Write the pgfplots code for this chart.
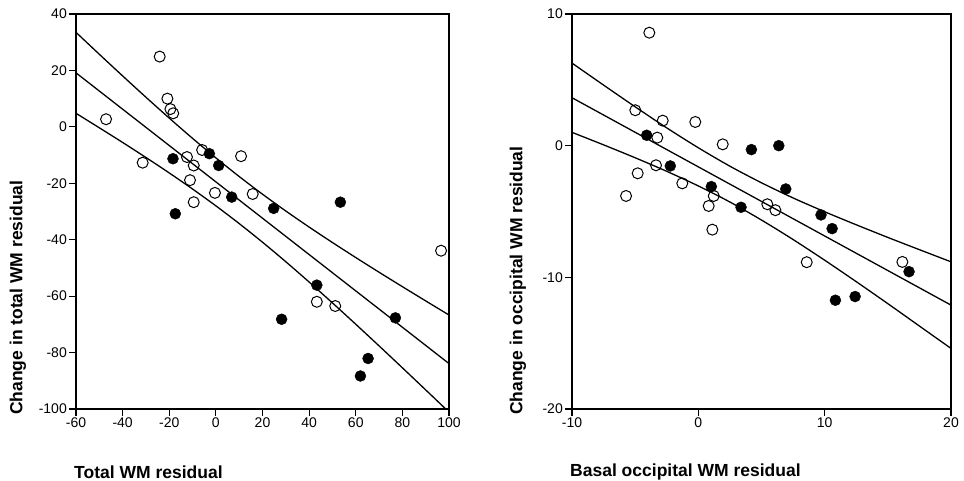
\documentclass[border=0pt]{standalone}
\usepackage{pgfplots}
\pgfplotsset{compat=1.18}
\usepackage{fontspec}
\setmainfont{Liberation Sans}

\pgfplotsset{
  resid/.style={
    scale only axis, height=395pt, anchor=south west,
    xtick pos=bottom, ytick pos=left, tick align=outside,
    major tick length=7pt,
    axis line style={line width=1.5pt},
    tick style={line width=1.2pt, black},
    ticklabel style={font=\fontsize{14}{14}\selectfont, inner sep=2pt},
    /pgf/number format/assume math mode=true,
  },
  openpt/.style={only marks, mark=o, mark size=5.5pt, mark options={line width=1pt, black}},
  fillpt/.style={only marks, mark=*, mark size=5.5pt, mark options={black}},
  fitline/.style={no marks, black, line width=1.3pt, smooth},
}

\begin{document}
\begin{tikzpicture}
\path[use as bounding box] (0,0) rectangle (964pt,481pt);

% left panel
\begin{axis}[resid, at={(76pt,72pt)}, width=373pt,
  xmin=-60, xmax=100, ymin=-100, ymax=40,
  xtick={-60,-40,...,100}, ytick={-100,-80,...,40}]
\addplot[openpt] coordinates {(-24.1,24.9) (-47.1,2.7) (-20.8,10) (-19.5,6.3) (-18.3,4.8)
  (-31.4,-12.7) (-5.9,-8.2) (-12.4,-10.7) (-9.5,-13.7) (10.8,-10.4) (-11.1,-18.9)
  (-0.4,-23.4) (-9.5,-26.7) (15.8,-23.8) (43.3,-62) (51.2,-63.5) (96.6,-43.9)};
\addplot[fillpt] coordinates {(-18.4,-11.3) (-2.8,-9.5) (1.2,-13.7) (6.8,-24.9) (24.8,-28.9)
  (53.4,-26.7) (-17.4,-30.8) (43.3,-56.1) (28.2,-68.2) (77,-67.7) (65.3,-82.1) (62,-88.3)};
\addplot[fitline] coordinates {(-60,19.14) (100,-83.9)};
\addplot[fitline] coordinates {(-60,33.5) (-50,25.73) (-40,18.05) (-30,10.5) (-20,3.10)
  (-10,-4.08) (0,-11.0) (10,-17.6) (20,-23.87) (30,-29.83) (40,-35.52) (50,-41.0)
  (60,-46.32) (70,-51.53) (80,-56.64) (90,-61.69) (100,-66.69)};
\addplot[fitline] coordinates {(-60,4.8) (-50,-0.33) (-40,-5.53) (-30,-10.86) (-20,-16.34)
  (-10,-22.04) (0,-28.0) (10,-34.28) (20,-40.89) (30,-47.81) (40,-55.0) (50,-62.4)
  (60,-69.96) (70,-77.63) (80,-85.4) (90,-93.23) (100,-101.1)};
\end{axis}

% right panel
\begin{axis}[resid, at={(572pt,72pt)}, width=379pt,
  xmin=-10, xmax=20, ymin=-20, ymax=10,
  xtick={-10,0,10,20}, ytick={-20,-10,0,10}]
\addplot[openpt] coordinates {(-3.88,8.58) (-4.99,2.69) (-2.82,1.9) (-0.24,1.8) (-3.25,0.61)
  (1.93,0.1) (-3.35,-1.49) (-4.8,-2.1) (-1.27,-2.86) (-5.72,-3.82) (1.22,-3.82)
  (0.82,-4.58) (5.46,-4.45) (6.1,-4.9) (1.11,-6.38) (8.58,-8.85) (16.15,-8.83)};
\addplot[fillpt] coordinates {(-4.09,0.79) (-2.22,-1.54) (4.2,-0.3) (6.37,0) (6.92,-3.29)
  (1.03,-3.11) (3.38,-4.68) (9.71,-5.26) (10.59,-6.3) (16.68,-9.57) (10.85,-11.74) (12.41,-11.46)};
\addplot[fitline] coordinates {(-10,3.64) (20,-12.11)};
\addplot[fitline] coordinates {(-10,6.27) (-7.5,4.60) (-5,2.95) (-2.5,1.35) (0,-0.16)
  (2.5,-1.56) (5,-2.82) (7.5,-3.97) (10,-5.02) (12.5,-6.01) (15,-6.97) (17.5,-7.90) (20,-8.82)};
\addplot[fitline] coordinates {(-10,1.01) (-7.5,0.06) (-5,-0.92) (-2.5,-1.95) (0,-3.06)
  (2.5,-4.28) (5,-5.65) (7.5,-7.13) (10,-8.70) (12.5,-10.33) (15,-12.0) (17.5,-13.70) (20,-15.40)};
\end{axis}

% axis titles
\tikzset{lab/.style={inner sep=0pt, font=\bfseries\fontsize{17.5}{18}\selectfont}}
\node[lab, anchor=west] at (74pt,9pt) {Total WM residual};
\node[lab, anchor=west] at (570pt,9pt) {Basal occipital WM residual};
\node[lab, rotate=90, anchor=west] at (18pt,66pt) {Change in total WM residual};
\node[lab, rotate=90, anchor=west] at (518pt,66pt) {Change in occipital WM residual};
\end{tikzpicture}
\end{document}
